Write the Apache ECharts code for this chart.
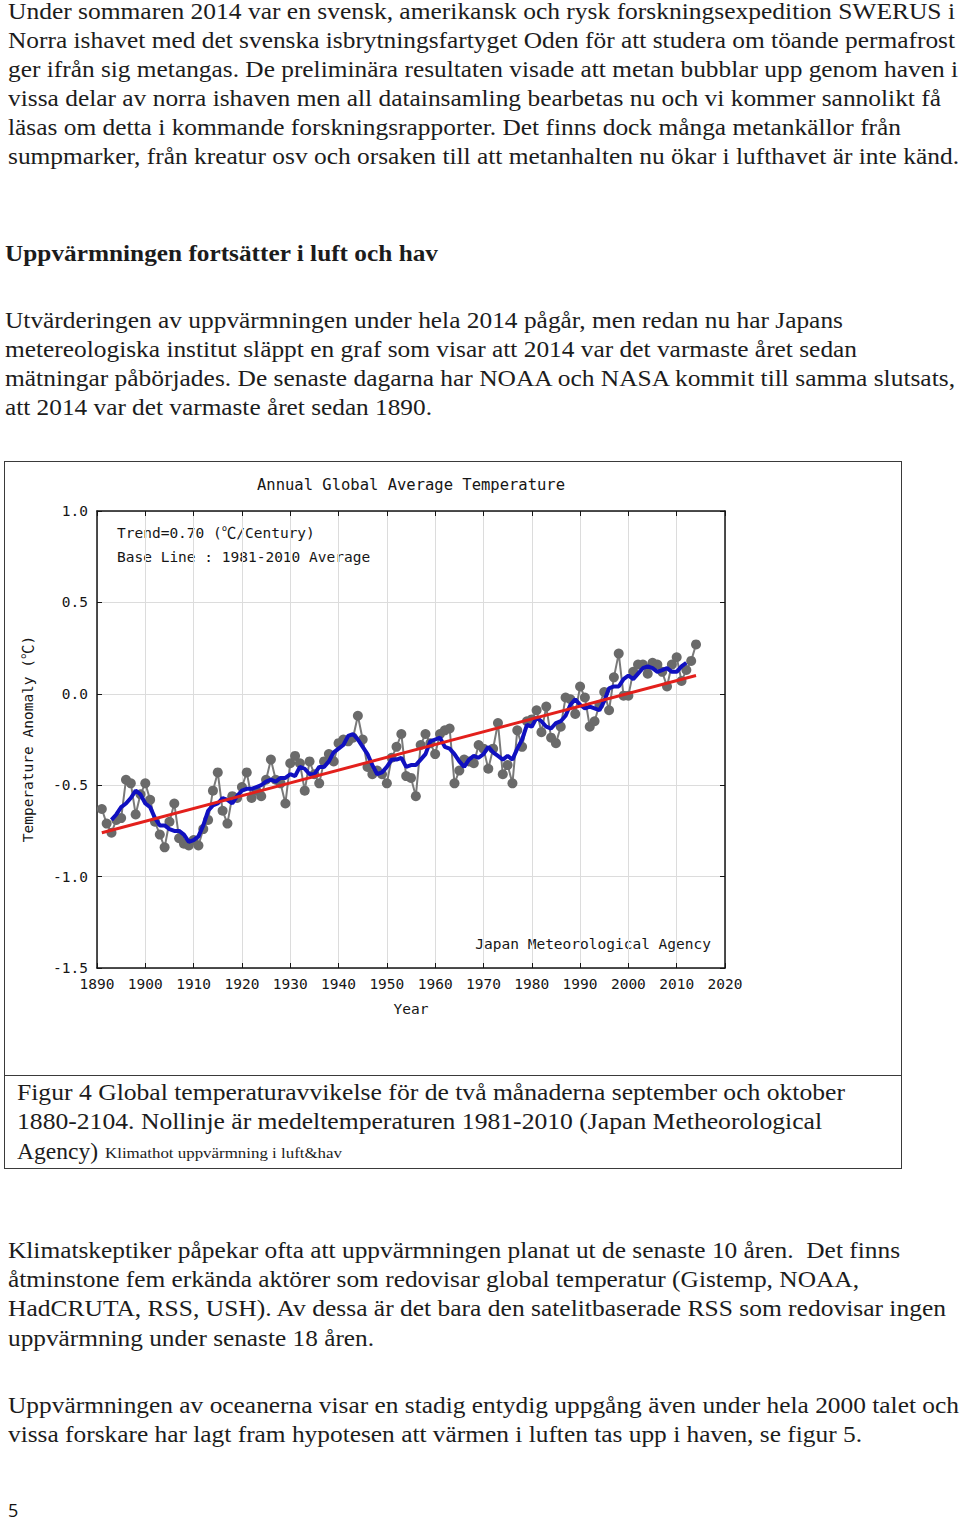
<!DOCTYPE html>
<html><head><meta charset="utf-8">
<script src="https://cdn.jsdelivr.net/npm/echarts/dist/echarts.min.js"></script>
<style>
html,body{margin:0;padding:0;background:#fff;}
body{width:960px;height:1521px;position:relative;overflow:hidden;font-family:"Liberation Serif","Times New Roman",serif;color:#1c1c1c;}
.l{position:absolute;white-space:nowrap;font-size:23px;line-height:29px;transform-origin:0 50%;}
.b{font-weight:bold;}
.s{font-size:15px;}
#box{position:absolute;left:4px;top:461px;width:896px;height:706px;border:1px solid #3a3a3a;}
#div{position:absolute;left:4px;top:1075px;width:897px;height:0;border-top:1px solid #3a3a3a;}
#chart{position:absolute;left:5px;top:462px;width:895px;height:612px;}
#pg{position:absolute;left:8px;top:1498px;font-family:"Open Sans","Liberation Sans",sans-serif;font-size:18px;color:#111;}
</style></head>
<body>
<div class="l" style="left:8px;top:-3px" data-r="955">Under sommaren 2014 var en svensk, amerikansk och rysk forskningsexpedition SWERUS i</div>
<div class="l" style="left:8px;top:26px" data-r="955">Norra ishavet med det svenska isbrytningsfartyget Oden för att studera om töande permafrost</div>
<div class="l" style="left:8px;top:55px" data-r="958">ger ifrån sig metangas. De preliminära resultaten visade att metan bubblar upp genom haven i</div>
<div class="l" style="left:8px;top:84px" data-r="941">vissa delar av norra ishaven men all datainsamling bearbetas nu och vi kommer sannolikt få</div>
<div class="l" style="left:8px;top:113px" data-r="901">läsas om detta i kommande forskningsrapporter. Det finns dock många metankällor från</div>
<div class="l" style="left:8px;top:142px" data-r="959">sumpmarker, från kreatur osv och orsaken till att metanhalten nu ökar i lufthavet är inte känd.</div>

<div class="l b" style="left:5px;top:239px" data-r="438">Uppvärmningen fortsätter i luft och hav</div>

<div class="l" style="left:5px;top:306px" data-r="843">Utvärderingen av uppvärmningen under hela 2014 pågår, men redan nu har Japans</div>
<div class="l" style="left:5px;top:335px" data-r="857">metereologiska institut släppt en graf som visar att 2014 var det varmaste året sedan</div>
<div class="l" style="left:5px;top:364px" data-r="955">mätningar påbörjades. De senaste dagarna har NOAA och NASA kommit till samma slutsats,</div>
<div class="l" style="left:5px;top:393px" data-r="432">att 2014 var det varmaste året sedan 1890.</div>

<div id="box"></div>
<div id="div"></div>
<div id="chart"></div>

<div class="l" style="left:17px;top:1078px" data-r="845">Figur 4 Global temperaturavvikelse för de två månaderna september och oktober</div>
<div class="l" style="left:17px;top:1107px" data-r="822">1880-2104. Nollinje är medeltemperaturen 1981-2010 (Japan Metheorological</div>
<div class="l" style="left:17px;top:1137px" data-r="98">Agency)</div>
<div class="l s" style="left:105px;top:1139px" data-r="342">Klimathot uppvärmning i luft&amp;hav</div>

<div class="l" style="left:8px;top:1236px" data-r="900">Klimatskeptiker påpekar ofta att uppvärmningen planat ut de senaste 10 åren.&nbsp; Det finns</div>
<div class="l" style="left:8px;top:1265px" data-r="859">åtminstone fem erkända aktörer som redovisar global temperatur (Gistemp, NOAA,</div>
<div class="l" style="left:8px;top:1294px" data-r="946">HadCRUTA, RSS, USH). Av dessa är det bara den satelitbaserade RSS som redovisar ingen</div>
<div class="l" style="left:8px;top:1324px" data-r="374">uppvärmning under senaste 18 åren.</div>

<div class="l" style="left:8px;top:1391px" data-r="959">Uppvärmningen av oceanerna visar en stadig entydig uppgång även under hela 2000 talet och</div>
<div class="l" style="left:8px;top:1420px" data-r="862">vissa forskare har lagt fram hypotesen att värmen i luften tas upp i haven, se figur 5.</div>

<div id="pg">5</div>

<script>
// ---- data ----
const annualYears = [1891,1892,1893,1894,1895,1896,1897,1898,1899,1900,
1901,1902,1903,1904,1905,1906,1907,1908,1909,1910,
1911,1912,1913,1914,1915,1916,1917,1918,1919,1920,
1921,1922,1923,1924,1925,1926,1927,1928,1929,1930,
1931,1932,1933,1934,1935,1936,1937,1938,1939,1940,
1941,1942,1943,1944,1945,1946,1947,1948,1949,1950,
1951,1952,1953,1954,1955,1956,1957,1958,1959,1960,
1961,1962,1963,1964,1965,1966,1967,1968,1969,1970,
1971,1972,1973,1974,1975,1976,1977,1978,1979,1980,
1981,1982,1983,1984,1985,1986,1987,1988,1989,1990,
1991,1992,1993,1994,1995,1996,1997,1998,1999,2000,
2001,2002,2003,2004,2005,2006,2007,2008,2009,2010,
2011,2012,2013,2014];
const annualAnomaly = [-0.63,-0.71,-0.76,-0.69,-0.68,-0.47,-0.49,-0.66,-0.55,-0.49,
-0.58,-0.70,-0.77,-0.84,-0.70,-0.60,-0.79,-0.82,-0.83,-0.80,
-0.83,-0.74,-0.69,-0.53,-0.43,-0.64,-0.71,-0.56,-0.57,-0.51,
-0.43,-0.57,-0.53,-0.56,-0.47,-0.36,-0.47,-0.49,-0.60,-0.38,
-0.34,-0.38,-0.53,-0.37,-0.44,-0.49,-0.37,-0.33,-0.37,-0.27,
-0.25,-0.26,-0.24,-0.12,-0.25,-0.40,-0.44,-0.42,-0.44,-0.49,
-0.35,-0.29,-0.22,-0.45,-0.46,-0.56,-0.28,-0.22,-0.27,-0.33,
-0.22,-0.20,-0.19,-0.49,-0.42,-0.36,-0.37,-0.38,-0.28,-0.30,
-0.41,-0.30,-0.16,-0.44,-0.39,-0.49,-0.20,-0.29,-0.15,-0.14,
-0.09,-0.21,-0.07,-0.24,-0.27,-0.18,-0.02,-0.03,-0.11,0.04,
-0.02,-0.18,-0.15,-0.06,0.01,-0.09,0.09,0.22,-0.01,-0.01,
0.12,0.16,0.16,0.11,0.17,0.16,0.12,0.04,0.16,0.20,
0.07,0.13,0.18,0.27];
const meanYears = [1893,1894,1895,1896,1897,1898,1899,1900,1901,1902,
1903,1904,1905,1906,1907,1908,1909,1910,1911,1912,
1913,1914,1915,1916,1917,1918,1919,1920,1921,1922,
1923,1924,1925,1926,1927,1928,1929,1930,1931,1932,
1933,1934,1935,1936,1937,1938,1939,1940,1941,1942,
1943,1944,1945,1946,1947,1948,1949,1950,1951,1952,
1953,1954,1955,1956,1957,1958,1959,1960,1961,1962,
1963,1964,1965,1966,1967,1968,1969,1970,1971,1972,
1973,1974,1975,1976,1977,1978,1979,1980,1981,1982,
1983,1984,1985,1986,1987,1988,1989,1990,1991,1992,
1993,1994,1995,1996,1997,1998,1999,2000,2001,2002,
2003,2004,2005,2006,2007,2008,2009,2010,2011,2012];
const runningMean5 = [-0.69,-0.66,-0.62,-0.60,-0.57,-0.53,-0.55,-0.60,-0.62,-0.68,
-0.72,-0.72,-0.74,-0.75,-0.75,-0.77,-0.81,-0.80,-0.78,-0.72,
-0.64,-0.61,-0.60,-0.57,-0.58,-0.60,-0.56,-0.53,-0.52,-0.52,
-0.51,-0.50,-0.48,-0.47,-0.48,-0.46,-0.46,-0.44,-0.45,-0.40,
-0.41,-0.44,-0.44,-0.40,-0.40,-0.37,-0.32,-0.30,-0.28,-0.23,
-0.22,-0.25,-0.29,-0.33,-0.39,-0.44,-0.43,-0.40,-0.36,-0.36,
-0.35,-0.40,-0.39,-0.39,-0.36,-0.33,-0.26,-0.25,-0.24,-0.29,
-0.30,-0.33,-0.37,-0.40,-0.36,-0.34,-0.35,-0.33,-0.29,-0.32,
-0.34,-0.36,-0.34,-0.36,-0.30,-0.25,-0.17,-0.18,-0.13,-0.15,
-0.18,-0.19,-0.16,-0.15,-0.12,-0.06,-0.03,-0.06,-0.08,-0.07,
-0.08,-0.09,-0.04,0.03,0.04,0.04,0.08,0.10,0.08,0.11,
0.14,0.15,0.14,0.12,0.13,0.14,0.12,0.12,0.15,0.17];
const trendYears = [1891, 2014];
const trendValues = [-0.76, 0.10];
const chartTitle = 'Annual Global Average Temperature';
const noteLines = ['Trend=0.70 (\u2103/Century)', 'Base Line : 1981-2010 Average'];
const sourceText = 'Japan Meteorological Agency';
const xName = 'Year';
const yName = 'Temperature Anomaly (\u2103)';

// ---- fit text lines ----
document.querySelectorAll('[data-r]').forEach(el => {
  const left = parseFloat(el.style.left);
  const w = el.getBoundingClientRect().width;
  const target = parseFloat(el.dataset.r) - left;
  if (w > 0) el.style.transform = 'scaleX(' + (target / w).toFixed(4) + ')';
});

// ---- chart ----
const mono = '"DejaVu Sans Mono","Noto Sans CJK JP",monospace';
const pair = (xs, ys) => xs.map((x, i) => [x, ys[i]]);
const chart = echarts.init(document.getElementById('chart'), null, {renderer: 'svg'});
const G = {left: 92, top: 49, width: 628, height: 457};
const axisCol = '#151515';
const txt = '#161616';
chart.setOption({
  animation: false,
  backgroundColor: '#fff',
  grid: {left: G.left, top: G.top, width: G.width, height: G.height, show: false},
  xAxis: [{
    type: 'value', min: 1890, max: 2020, interval: 10, position: 'bottom',
    axisLine: {show: true, onZero: false, lineStyle: {color: axisCol, width: 1.5}},
    axisTick: {show: true, inside: true, length: 5, lineStyle: {color: axisCol, width: 1}},
    axisLabel: {color: txt, fontFamily: mono, fontSize: 14.5, margin: 9, formatter: v => String(v)},
    splitLine: {show: true, lineStyle: {color: '#dcdcdc', width: 1}}
  }, {
    type: 'value', min: 1890, max: 2020, interval: 10, position: 'top',
    axisLine: {show: true, onZero: false, lineStyle: {color: axisCol, width: 1.5}},
    axisTick: {show: true, inside: true, length: 5, lineStyle: {color: axisCol, width: 1}},
    axisLabel: {show: false}, splitLine: {show: false}
  }],
  yAxis: [{
    type: 'value', min: -1.5, max: 1.0, interval: 0.5, position: 'left',
    axisLine: {show: true, onZero: false, lineStyle: {color: axisCol, width: 1.5}},
    axisTick: {show: true, inside: true, length: 5, lineStyle: {color: axisCol, width: 1}},
    axisLabel: {color: txt, fontFamily: mono, fontSize: 14.5, margin: 9, formatter: v => v.toFixed(1)},
    splitLine: {show: true, lineStyle: {color: '#dcdcdc', width: 1}}
  }, {
    type: 'value', min: -1.5, max: 1.0, interval: 0.5, position: 'right',
    axisLine: {show: true, onZero: false, lineStyle: {color: axisCol, width: 1.5}},
    axisTick: {show: true, inside: true, length: 5, lineStyle: {color: axisCol, width: 1}},
    axisLabel: {show: false}, splitLine: {show: false}
  }],
  series: [{
    name: 'annual', type: 'line', data: pair(annualYears, annualAnomaly),
    symbol: 'circle', symbolSize: 10, z: 2,
    itemStyle: {color: '#6a6a6a'},
    lineStyle: {color: '#7a7a7a', width: 2}
  }, {
    name: 'mean', type: 'line', data: pair(meanYears, runningMean5),
    symbol: 'none', z: 3, lineStyle: {color: '#1010c0', width: 4}
  }, {
    name: 'trend', type: 'line', data: pair(trendYears, trendValues),
    symbol: 'none', z: 4, lineStyle: {color: '#e3201c', width: 3}
  }],
  graphic: [
    {type: 'text', x: 406, y: 23, style: {text: chartTitle, font: '15.5px ' + mono, fill: txt, textAlign: 'center', textVerticalAlign: 'middle'}},
    {type: 'text', x: 112, y: 71, style: {text: noteLines[0], font: '14.5px ' + mono, fill: txt, textVerticalAlign: 'middle'}},
    {type: 'text', x: 112, y: 95, style: {text: noteLines[1], font: '14.5px ' + mono, fill: txt, textVerticalAlign: 'middle'}},
    {type: 'text', x: 706, y: 482, style: {text: sourceText, font: '14.5px ' + mono, fill: txt, textAlign: 'right', textVerticalAlign: 'middle'}},
    {type: 'text', x: 406, y: 547, style: {text: xName, font: '14.5px ' + mono, fill: txt, textAlign: 'center', textVerticalAlign: 'middle'}},
    {type: 'text', x: 23, y: 277, rotation: Math.PI / 2, style: {text: yName, font: '14.5px ' + mono, fill: txt, textAlign: 'center', textVerticalAlign: 'middle'}}
  ]
});
</script>
</body></html>
